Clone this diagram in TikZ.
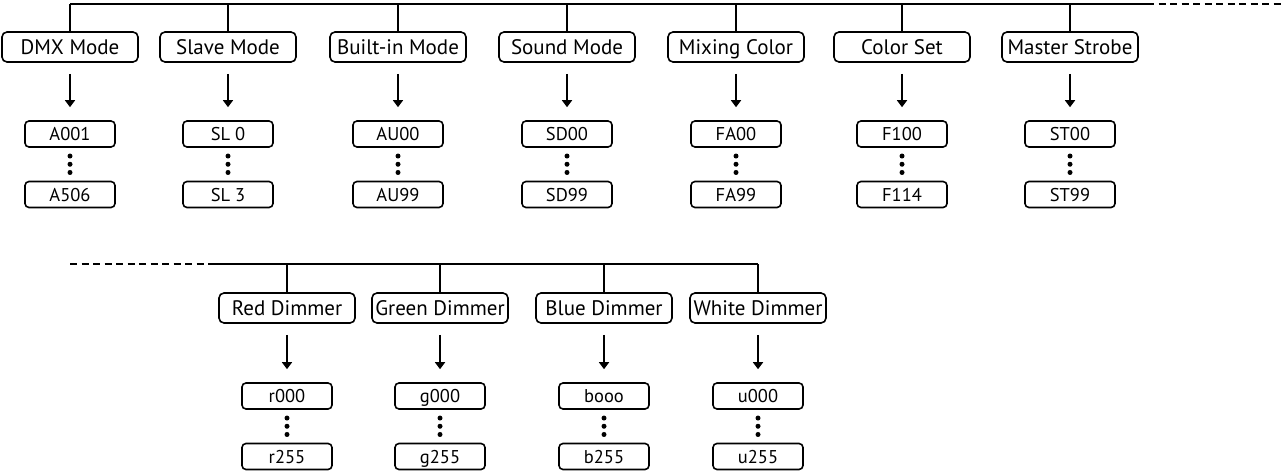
\documentclass[tikz,border=0pt]{standalone}
\usepackage{fontspec}
\setmainfont{PT Sans}
\usetikzlibrary{positioning}
\usetikzlibrary{arrows.meta}
\usetikzlibrary{calc}
\tikzset{
  mode/.style={draw,rounded corners=5pt,line width=1.6pt,minimum width=136pt,minimum height=30pt,inner sep=0pt,text height=18.5pt,text depth=4pt,font=\fontsize{21}{23}\selectfont},
  val/.style={draw,rounded corners=4pt,line width=1.6pt,minimum width=90pt,minimum height=26pt,inner sep=0pt,text height=16.5pt,text depth=3.5pt,font=\fontsize{18.5}{20}\selectfont},
  link/.style={line width=1.6pt},
  more/.style={line width=1.6pt,dash pattern=on 7pt off 4.5pt},
  pick/.style={-{Triangle[length=7pt,width=10pt]},line width=1.6pt,shorten <=11pt,shorten >=13pt},
}

\begin{document}
\begin{tikzpicture}[x=1pt,y=-1pt]
  \useasboundingbox (0,0) rectangle (1285,471);
  % first row
  \coordinate (top) at (70,4);
  \coordinate (topend) at (1147,4);
  \coordinate (topout) at (1285,4);
  \draw[link] (top) -- (topend);
  \draw[more] (topend) -- (topout);
  \foreach \x/\name/\lbl/\lo/\hi in {70/dmx/DMX Mode/A001/A506,
      228/slave/Slave Mode/SL 0/SL 3,
      398/auto/Built-in Mode/AU00/AU99,
      567/sound/Sound Mode/SD00/SD99,
      736/mix/Mixing Color/FA00/FA99,
      902/cset/Color Set/F100/F114,
      1070/strobe/Master Strobe/ST00/ST99} {
    \node[mode] (\name) at (\x,47) {\lbl};
    \node[val] (\name-lo) at (\x,134) {\lo};
    \node[val] (\name-hi) at (\x,194.5) {\hi};
    \draw[link] (\name.north) -- (\name.north |- top);
    \draw[pick] (\name.south) -- (\name-lo.north);
    \foreach \k in {1,2,3}
      \fill ($(\name-lo.south)!\k/4!(\name-hi.north)$) circle (2.5pt);
  }
  % second row
  \coordinate (low) at (70,264);
  \coordinate (lowstart) at (210,264);
  \coordinate (lowend) at (758,264);
  \draw[more] (low) -- (lowstart);
  \draw[link] (lowstart) -- (lowend);
  \foreach \x/\name/\lbl/\lo/\hi in {287/red/Red Dimmer/r000/r255,
      440/green/Green Dimmer/g000/g255,
      604/blue/Blue Dimmer/booo/b255,
      758/white/White Dimmer/u000/u255} {
    \node[mode] (\name) at (\x,308) {\lbl};
    \node[val] (\name-lo) at (\x,396) {\lo};
    \node[val] (\name-hi) at (\x,456.5) {\hi};
    \draw[link] (\name.north) -- (\name.north |- low);
    \draw[pick] (\name.south) -- (\name-lo.north);
    \foreach \k in {1,2,3}
      \fill ($(\name-lo.south)!\k/4!(\name-hi.north)$) circle (2.5pt);
  }
\end{tikzpicture}
\end{document}
